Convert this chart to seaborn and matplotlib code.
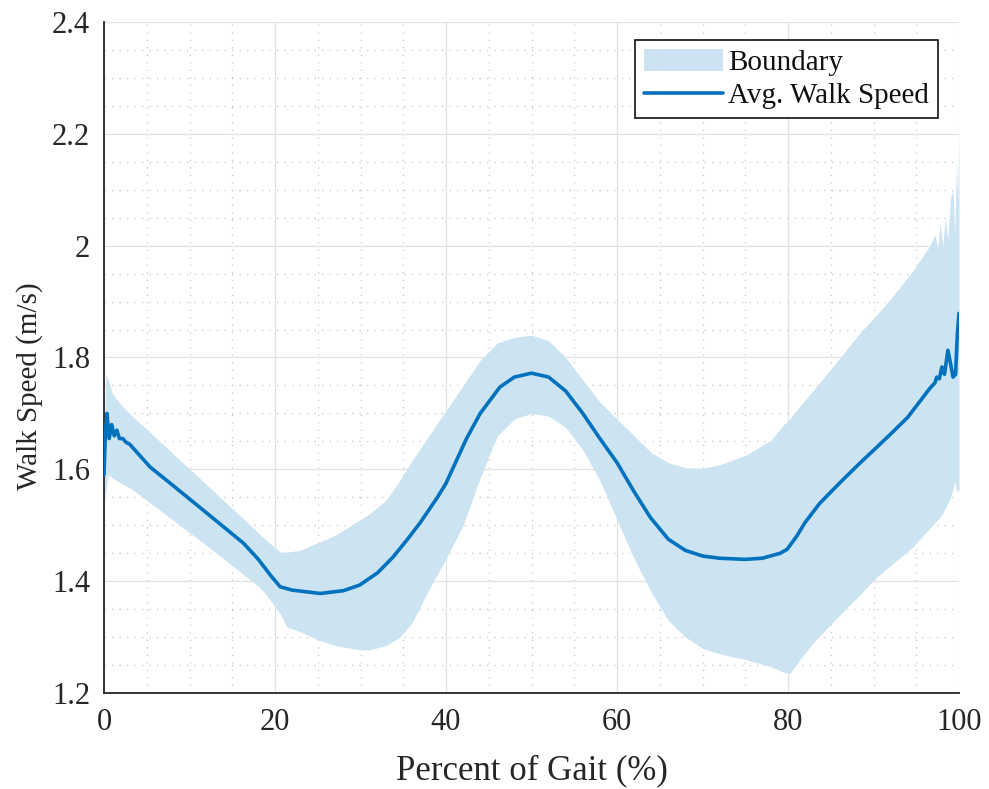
import numpy as np
import pandas as pd
import matplotlib
matplotlib.use("Agg")
import matplotlib.pyplot as plt
import seaborn as sns
from matplotlib.ticker import MultipleLocator

# ---- data ----
mean_x = [0, 0.15, 0.35, 0.6, 0.9, 1.2, 1.5, 1.8, 2.2, 2.6, 3, 5.4, 8, 11.2, 14, 16.3,
          18, 19.5, 20.6, 22, 25.3, 28, 29.9, 32, 33.8, 35.5, 37, 39, 40, 42.4, 44,
          46.3, 48, 50, 52, 54, 56, 58, 60, 62, 63.9, 66, 68, 70, 72, 75, 77, 79.1,
          79.9, 81, 82, 83.7, 86, 88.4, 90, 92, 94, 96.6, 97.2, 97.4, 97.7, 98, 98.3,
          98.7, 99, 99.3, 99.6, 99.8, 100]
mean_y = [1.59, 1.66, 1.70, 1.655, 1.68, 1.66, 1.67, 1.655, 1.655, 1.648, 1.645, 1.604,
          1.572, 1.532, 1.497, 1.468, 1.44, 1.41, 1.39, 1.384, 1.378, 1.383, 1.393,
          1.415, 1.443, 1.475, 1.505, 1.55, 1.575, 1.655, 1.70, 1.747, 1.765, 1.772,
          1.765, 1.74, 1.70, 1.655, 1.612, 1.56, 1.514, 1.475, 1.455, 1.445, 1.441,
          1.439, 1.441, 1.45, 1.457, 1.48, 1.505, 1.539, 1.575, 1.611, 1.634, 1.663,
          1.693, 1.745, 1.755, 1.765, 1.762, 1.783, 1.77, 1.813, 1.79, 1.765, 1.77,
          1.84, 1.879]

bound_x = [0, 0.2, 0.5, 1, 2, 3.4, 5.4, 8, 11.2, 14, 16.3, 18.2, 19, 20.2, 20.6, 21.4,
           22.9, 24.9, 27, 29.9, 31, 33, 34.6, 36, 38, 40, 42, 44, 46, 48, 50, 52, 54,
           56, 58, 60, 62, 64, 66, 68, 70, 72, 75, 78, 79.5, 80.2, 81.5, 82.9, 84.5,
           86.9, 88.4, 90, 92, 94.6, 96.6, 97.2, 97.5, 97.8, 98.1, 98.4, 98.7, 99,
           99.3, 99.5, 99.7, 99.85, 100]
upper_y = [1.60, 1.77, 1.76, 1.735, 1.715, 1.694, 1.666, 1.629, 1.584, 1.544, 1.512,
           1.484, 1.473, 1.457, 1.452, 1.452, 1.455, 1.468, 1.482, 1.509, 1.52, 1.545,
           1.58, 1.615, 1.66, 1.705, 1.75, 1.795, 1.826, 1.836, 1.84, 1.83, 1.80, 1.76,
           1.72, 1.69, 1.66, 1.63, 1.612, 1.603, 1.602, 1.608, 1.625, 1.652, 1.68,
           1.69, 1.715, 1.74, 1.77, 1.815, 1.844, 1.87, 1.905, 1.955, 2.0, 2.02, 1.995,
           2.04, 2.0, 2.05, 2.01, 2.085, 2.10, 2.02, 2.15, 2.08, 2.2]
lower_y = [1.53, 1.56, 1.59, 1.585, 1.575, 1.563, 1.54, 1.51, 1.473, 1.44, 1.412,
           1.389, 1.375, 1.35, 1.342, 1.318, 1.31, 1.296, 1.285, 1.277, 1.277, 1.285,
           1.30, 1.325, 1.385, 1.44, 1.50, 1.585, 1.66, 1.69, 1.70, 1.695, 1.675,
           1.635, 1.58, 1.51, 1.44, 1.38, 1.33, 1.30, 1.28, 1.27, 1.26, 1.247, 1.237,
           1.235, 1.262, 1.289, 1.315, 1.353, 1.375, 1.402, 1.428, 1.461, 1.495,
           1.505, 1.51, 1.515, 1.522, 1.53, 1.54, 1.55, 1.565, 1.58, 1.56, 1.565, 1.56]

x_ticks = [0, 20, 40, 60, 80, 100]
y_ticks = [1.2, 1.4, 1.6, 1.8, 2.0, 2.2, 2.4]
y_tick_labels = ["1.2", "1.4", "1.6", "1.8", "2", "2.2", "2.4"]

df_mean = pd.DataFrame({"x": mean_x, "y": mean_y})

# ---- style ----
sns.set_theme(style="white")
plt.rcParams["font.family"] = ["Liberation Serif", "DejaVu Serif"]

line_color = "#0072BD"
band_color = "#cce3f1"
ink = "#262626"

fig = plt.figure(figsize=(9.89, 7.89), dpi=100)
ax = fig.add_axes([104 / 989, 1 - 693 / 789, 855 / 989, 671 / 789])

ax.fill_between(bound_x, lower_y, upper_y, color=band_color, linewidth=0,
                label="Boundary", zorder=2)
sns.lineplot(data=df_mean, x="x", y="y", ax=ax, color=line_color, linewidth=2.6,
             label="Avg. Walk Speed", zorder=3, estimator=None, sort=False)

ax.set_xlim(0, 100)
ax.set_ylim(1.2, 2.4)
ax.set_xticks(x_ticks)
ax.set_xticklabels([str(t) for t in x_ticks])
ax.set_yticks(y_ticks)
ax.set_yticklabels(y_tick_labels)
ax.xaxis.set_minor_locator(MultipleLocator(5))
ax.yaxis.set_minor_locator(MultipleLocator(0.05))

ax.grid(True, which="major", color="#e2e2e2", linewidth=0.9, linestyle="-", zorder=0)
ax.grid(True, which="minor", color="#c4c4c4", linewidth=0.9, linestyle=(0, (1, 5)), zorder=0)
ax.set_axisbelow(True)

for side in ["top", "right"]:
    ax.spines[side].set_visible(False)
for side in ["left", "bottom"]:
    ax.spines[side].set_color(ink)
    ax.spines[side].set_linewidth(1.3)

ax.tick_params(axis="both", which="major", direction="in", length=5, width=1.3,
               color=ink, labelcolor=ink, labelsize=22)
ax.tick_params(axis="x", which="major", pad=11)
ax.tick_params(axis="y", which="major", pad=10)
ax.tick_params(axis="both", which="minor", length=0)

ax.set_xlabel("Percent of Gait (%)", fontsize=25, color=ink, labelpad=12)
ax.set_ylabel("Walk Speed (m/s)", fontsize=21, color=ink)
ax.yaxis.set_label_coords(-0.0713, 1 - (386 - 22) / 671)

leg = ax.legend(loc="upper right", bbox_to_anchor=(0.9754, 0.9732), borderaxespad=0,
                fontsize=21, frameon=True, fancybox=False, framealpha=1,
                edgecolor="#111111", handlelength=2.7, handleheight=0.8,
                borderpad=0.3, labelspacing=0.2, handletextpad=0.2)
leg.get_frame().set_linewidth(1.2)
for t in leg.get_texts():
    t.set_color("#111111")

fig.savefig("out.png", dpi=100)
